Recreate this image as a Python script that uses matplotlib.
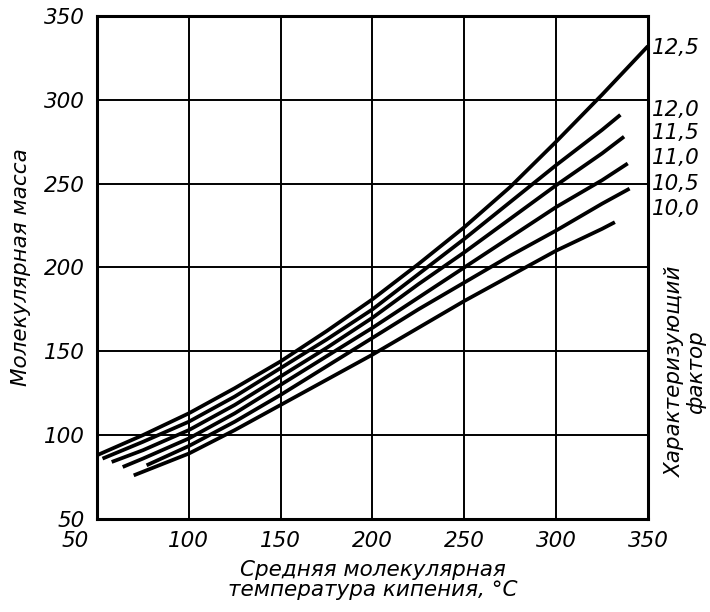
import numpy as np
import matplotlib
matplotlib.use("Agg")
from matplotlib import pyplot as plt
from matplotlib import transforms

# characterization factor K for each curve
k_labels = ["12,5", "12,0", "11,5", "11,0", "10,5", "10,0"]

t_125 = [50, 75, 100, 125, 150, 175, 200, 225, 250, 275, 300, 325, 350]
m_125 = [88, 100, 113, 128, 144, 162, 181, 202, 224, 248, 275, 303, 332]

t_120 = [53, 75, 100, 125, 150, 175, 200, 225, 250, 275, 300, 325, 335]
m_120 = [86, 96, 108, 123, 140, 157, 175, 196, 217, 239, 261, 282, 291]

t_115 = [58, 75, 100, 125, 150, 175, 200, 225, 250, 275, 300, 325, 337]
m_115 = [84, 91, 103, 118, 135, 152, 170, 190, 209, 229, 249, 268, 278]

t_110 = [64, 75, 100, 125, 150, 175, 200, 225, 250, 275, 300, 325, 339]
m_110 = [81, 86, 98, 113, 130, 147, 164, 182, 200, 218, 236, 252, 262]

t_105 = [77, 100, 125, 150, 175, 200, 225, 250, 275, 300, 325, 340]
m_105 = [82, 93.5, 108, 124, 141, 158, 175, 191, 207, 222, 238, 247]

t_100 = [70, 100, 125, 150, 175, 200, 225, 250, 275, 300, 325, 332]
m_100 = [76, 89, 103, 118, 133, 148, 164, 180, 195, 210, 223, 227]

ticks = [50, 100, 150, 200, 250, 300, 350]

curves = [(t_125, m_125), (t_120, m_120), (t_115, m_115),
          (t_110, m_110), (t_105, m_105), (t_100, m_100)]
# where the K labels sit on the right edge (data units)
label_y = [331, 294, 280, 265, 249.5, 235]

plt.rcParams['font.family'] = ['DejaVu Sans']
font = dict(style='italic', color='black')

fig = plt.figure(figsize=(7.10, 6.12), dpi=100)
ax = fig.add_axes([0.1366, 0.152, 0.776, 0.822])

for t, m in curves:
    ax.plot(t, m, color='black', lw=2.7, solid_capstyle='butt', zorder=3)

ax.set_xlim(50, 350)
ax.set_ylim(50, 350)
ax.set_xticks(ticks)
ax.set_yticks(ticks)
ax.grid(True, color='black', lw=1.4)
ax.tick_params(length=0, pad=9, labelsize=15.5)
for lab in ax.get_xticklabels() + ax.get_yticklabels():
    lab.set_fontstyle('italic')
for sp in ax.spines.values():
    sp.set_linewidth(2.2)
    sp.set_color('black')

# shift the first x label a bit to the left so it clears the y label
first = ax.get_xticklabels()[0]
first.set_transform(first.get_transform() +
                    transforms.ScaledTranslation(-0.22, 0, fig.dpi_scale_trans))

for lab, y in zip(k_labels, label_y):
    ax.text(352, y, lab, fontsize=15.5, ha='left', va='center',
            clip_on=False, **font)

ax.set_ylabel("Молекулярная масса", fontsize=15.5, labelpad=9, **font)
ax.set_xlabel("Средняя молекулярная\nтемпература кипения, °C",
              fontsize=15.5, labelpad=6, linespacing=1.0, **font)
fig.text(0.965, 0.393, "Характеризующий\nфактор", rotation=90,
         fontsize=15.5, ha='center', va='center', linespacing=1.05, **font)

fig.savefig("out.png", dpi=100)
